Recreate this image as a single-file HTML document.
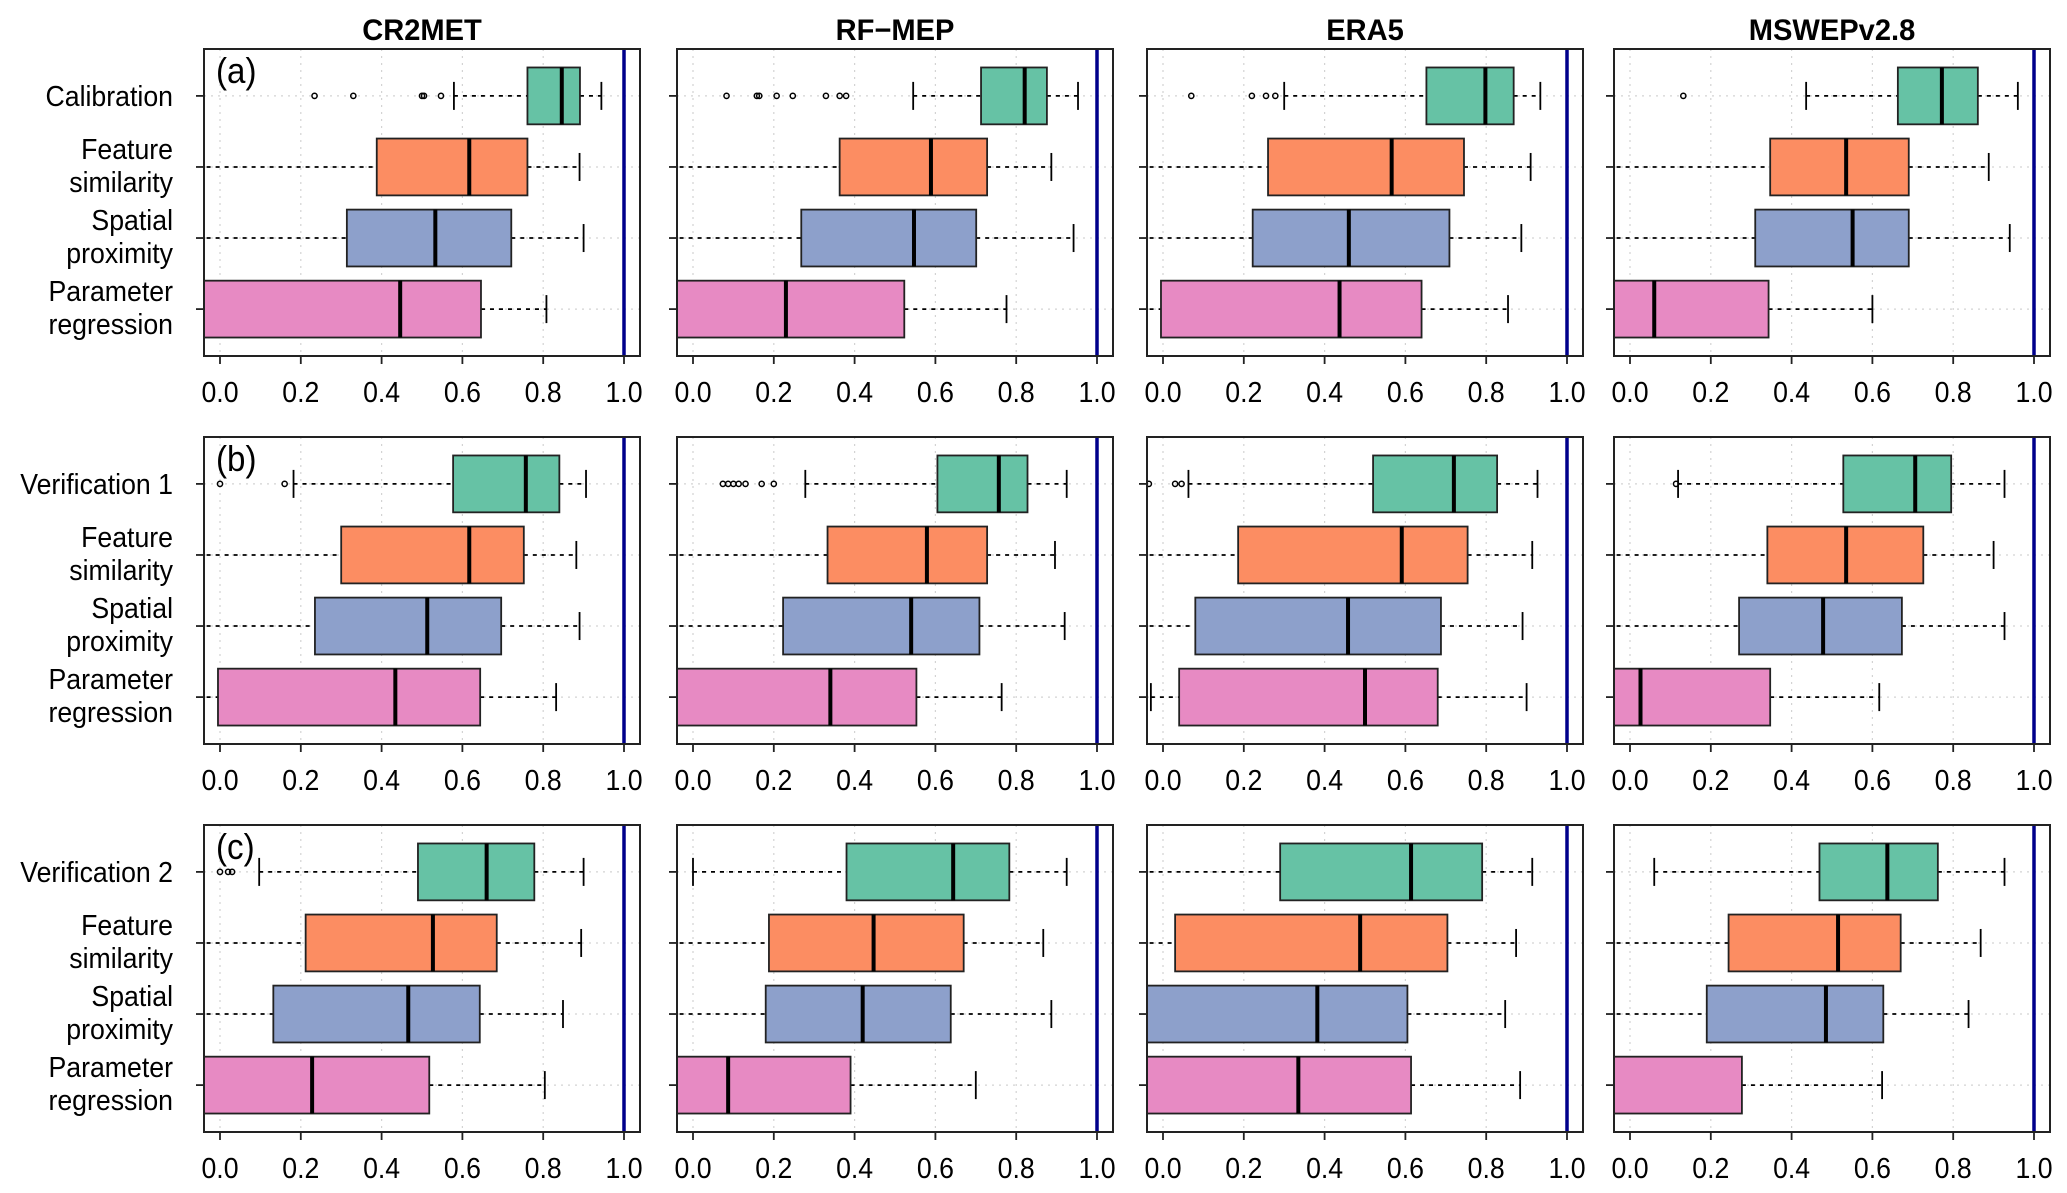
<!DOCTYPE html>
<html><head><meta charset="utf-8">
<style>
html,body{margin:0;padding:0;background:#fff;}
svg{display:block;font-family:"Liberation Sans",Arial,sans-serif;}
</style></head>
<body>
<svg id="chart" width="2067" height="1193" viewBox="0 0 2067 1193" xmlns="http://www.w3.org/2000/svg"></svg>
<script>
// ---- data ----
const products = ["CR2MET", "RF\u2212MEP", "ERA5", "MSWEPv2.8"];
const periods = ["Calibration", "Verification 1", "Verification 2"];
const panelLetters = ["(a)", "(b)", "(c)"];
const methods = ["Feature similarity", "Spatial proximity", "Parameter regression"];
const xTicks = [0.0, 0.2, 0.4, 0.6, 0.8, 1.0];
const xTickLabels = ["0.0", "0.2", "0.4", "0.6", "0.8", "1.0"];
const refLine = 1.0;
// each box: [lowWhisker, Q1, median, Q3, highWhisker]; index [period][product][group]
const statsA = [
  [[0.579,0.761,0.846,0.891,0.944],[-0.1,0.388,0.617,0.761,0.890],[-0.1,0.314,0.533,0.721,0.900],[-0.1,-0.1,0.446,0.646,0.808]],
  [[0.545,0.713,0.821,0.876,0.953],[-0.1,0.363,0.589,0.728,0.887],[-0.1,0.268,0.547,0.701,0.942],[-0.1,-0.1,0.230,0.523,0.776]],
  [[0.300,0.652,0.798,0.868,0.934],[-0.1,0.260,0.566,0.745,0.910],[-0.1,0.222,0.460,0.709,0.887],[-0.1,-0.005,0.437,0.640,0.854]],
  [[0.436,0.663,0.772,0.861,0.960],[-0.1,0.347,0.535,0.690,0.888],[-0.1,0.310,0.551,0.690,0.940],[-0.1,-0.1,0.060,0.343,0.600]]
];
const statsB = [
  [[0.182,0.577,0.757,0.840,0.906],[-0.1,0.300,0.617,0.752,0.882],[-0.1,0.235,0.513,0.696,0.890],[-0.1,-0.005,0.434,0.644,0.832]],
  [[0.278,0.605,0.757,0.828,0.925],[-0.1,0.333,0.579,0.728,0.896],[-0.1,0.223,0.540,0.709,0.920],[-0.1,-0.1,0.340,0.553,0.764]],
  [[0.063,0.520,0.720,0.827,0.927],[-0.1,0.186,0.591,0.754,0.914],[-0.1,0.080,0.458,0.688,0.890],[-0.03,0.040,0.500,0.680,0.900]],
  [[0.119,0.528,0.706,0.795,0.927],[-0.1,0.340,0.535,0.726,0.900],[-0.1,0.270,0.478,0.673,0.927],[-0.1,-0.1,0.026,0.347,0.617]]
];
const statsC = [
  [[0.097,0.490,0.660,0.778,0.900],[-0.1,0.212,0.527,0.685,0.894],[-0.1,0.132,0.466,0.643,0.849],[-0.1,-0.1,0.228,0.518,0.804]],
  [[0.000,0.380,0.644,0.783,0.925],[-0.1,0.188,0.447,0.670,0.867],[-0.1,0.180,0.420,0.638,0.887],[-0.1,-0.1,0.087,0.390,0.700]],
  [[-0.1,0.290,0.614,0.790,0.914],[-0.1,0.030,0.488,0.704,0.874],[-0.1,-0.1,0.382,0.605,0.847],[-0.1,-0.1,0.335,0.614,0.884]],
  [[0.060,0.469,0.637,0.762,0.927],[-0.1,0.244,0.515,0.670,0.868],[-0.1,0.190,0.485,0.627,0.838],[-0.1,-0.1,-0.1,0.277,0.624]]
];
const outliersA = [[0.234,0.330,0.500,0.505,0.547],[0.083,0.158,0.164,0.207,0.247,0.329,0.363,0.379],[0.070,0.220,0.255,0.278],[0.132]];
const outliersB = [[0.0,0.160],[0.074,0.087,0.100,0.113,0.130,0.170,0.200],[-0.035,0.030,0.046],[0.114]];
const outliersC = [[0.0,0.020,0.030],[],[],[]];
const allStats = [statsA, statsB, statsC];
const allOutliers = [outliersA, outliersB, outliersC];
const colors = ["#66c2a5", "#fc8d62", "#8da0cb", "#e78ac3"];

// ---- layout ----
const NS = "http://www.w3.org/2000/svg";
const svg = document.getElementById("chart");
const colLefts = [204, 677, 1147, 1614];
const rowTops = [49, 437, 825];
const PW = 436, PH = 307, INSET = 16;
function el(tag, attrs, parent) {
  const e = document.createElementNS(NS, tag);
  for (const k in attrs) e.setAttribute(k, attrs[k]);
  (parent || svg).appendChild(e);
  return e;
}
function txt(x, y, size, anchor, weight, sx, str, parent) {
  const t = el("text", {x: 0, y: 0, transform: "translate(" + x + "," + y + ") scale(" + sx + ",1)", "text-anchor": anchor, "font-size": size, "font-weight": weight, fill: "#000"}, parent);
  t.textContent = str;
  return t;
}
function xScale(c) { const l = colLefts[c]; return v => l + INSET + v * (PW - 2 * INSET); }
function yPos(r, g) { const unit = PH / 4.32; return rowTops[r] + 0.16 * unit + (g + 0.5) * unit; }

// titles
products.forEach((p, c) => {
  const t = txt(colLefts[c] + PW / 2, 40, 30, "middle", "bold", 0.97, p);
  
  
});

for (let r = 0; r < 3; r++) {
  const groupNames = [[periods[r]], ["Feature", "similarity"], ["Spatial", "proximity"], ["Parameter", "regression"]];
  groupNames.forEach((lines, g) => {
    const yc = yPos(r, g);
    if (lines.length === 1) {
      const t = txt(173, yc + 10, 29, "end", "normal", 0.92, lines[0]);
      
      
    } else {
      const t1 = txt(173, yc - 8, 29, "end", "normal", 0.92, lines[0]);
      
      
      const t2 = txt(173, yc + 25, 29, "end", "normal", 0.92, lines[1]);
      
      
    }
  });
  for (let c = 0; c < 4; c++) {
    const X = xScale(c);
    const L = colLefts[c], T = rowTops[r];
    const g0 = el("g", {});
    
    
    const cid = "clip" + r + c;
    const cp = el("clipPath", {id: cid}, g0);
    el("rect", {x: L, y: T, width: PW, height: PH}, cp);
    const inner = el("g", {"clip-path": "url(#" + cid + ")"}, g0);
    xTicks.forEach(v => {
      const gl = el("line", {x1: X(v), x2: X(v), y1: T, y2: T + PH, stroke: "#d3d3d3", "stroke-width": 1.2, "stroke-dasharray": "2,5"}, inner);
      
      
    });
    for (let g = 0; g < 4; g++) {
      const gl = el("line", {x1: L, x2: L + PW, y1: yPos(r, g), y2: yPos(r, g), stroke: "#d3d3d3", "stroke-width": 1.2, "stroke-dasharray": "2,5"}, inner);
      
      
    }
    const st = allStats[r][c];
    const bh = PH / 4.32 * 0.8;
    st.forEach((s, g) => {
      const yc = yPos(r, g);
      const [lo, q1, md, q3, hi] = s;
      const bx = el("g", {}, inner);
      
      
      el("line", {x1: X(lo), x2: X(q1), y1: yc, y2: yc, stroke: "#000", "stroke-width": 1.8, "stroke-dasharray": "4,5"}, bx);
      el("line", {x1: X(q3), x2: X(hi), y1: yc, y2: yc, stroke: "#000", "stroke-width": 1.8, "stroke-dasharray": "4,5"}, bx);
      el("line", {x1: X(lo), x2: X(lo), y1: yc - 14, y2: yc + 14, stroke: "#000", "stroke-width": 1.8}, bx);
      el("line", {x1: X(hi), x2: X(hi), y1: yc - 14, y2: yc + 14, stroke: "#000", "stroke-width": 1.8}, bx);
      el("rect", {x: X(q1), y: yc - bh / 2, width: X(q3) - X(q1), height: bh, fill: colors[g], stroke: "#222", "stroke-width": 1.8}, bx);
      el("line", {x1: X(md), x2: X(md), y1: yc - bh / 2, y2: yc + bh / 2, stroke: "#000", "stroke-width": 4}, bx);
    });
    allOutliers[r][c].forEach(v => {
      const o = el("circle", {cx: X(v), cy: yPos(r, 0), r: 2.6, fill: "none", stroke: "#000", "stroke-width": 1.5}, inner);
      
      
    });
    const rl = el("line", {x1: X(refLine), x2: X(refLine), y1: T, y2: T + PH, stroke: "#00008b", "stroke-width": 3.5}, inner);
    
    
    const fr = el("rect", {x: L, y: T, width: PW, height: PH, fill: "none", stroke: "#222", "stroke-width": 2}, g0);
    
    
    for (let g = 0; g < 4; g++) {
      el("line", {x1: L - 8, x2: L, y1: yPos(r, g), y2: yPos(r, g), stroke: "#222", "stroke-width": 1.8}, g0);
    }
    xTicks.forEach((v, i) => {
      el("line", {x1: X(v), x2: X(v), y1: T + PH, y2: T + PH + 8, stroke: "#222", "stroke-width": 1.8}, g0);
      const tl = txt(X(v), T + PH + 46, 29, "middle", "normal", 0.92, xTickLabels[i], g0);
      
      
    });
    if (c === 0) {
      const pl = txt(L + 12, T + 34, 36, "start", "normal", 0.92, panelLetters[r], g0);
      
      
    }
  }
}
</script>
</body></html>
